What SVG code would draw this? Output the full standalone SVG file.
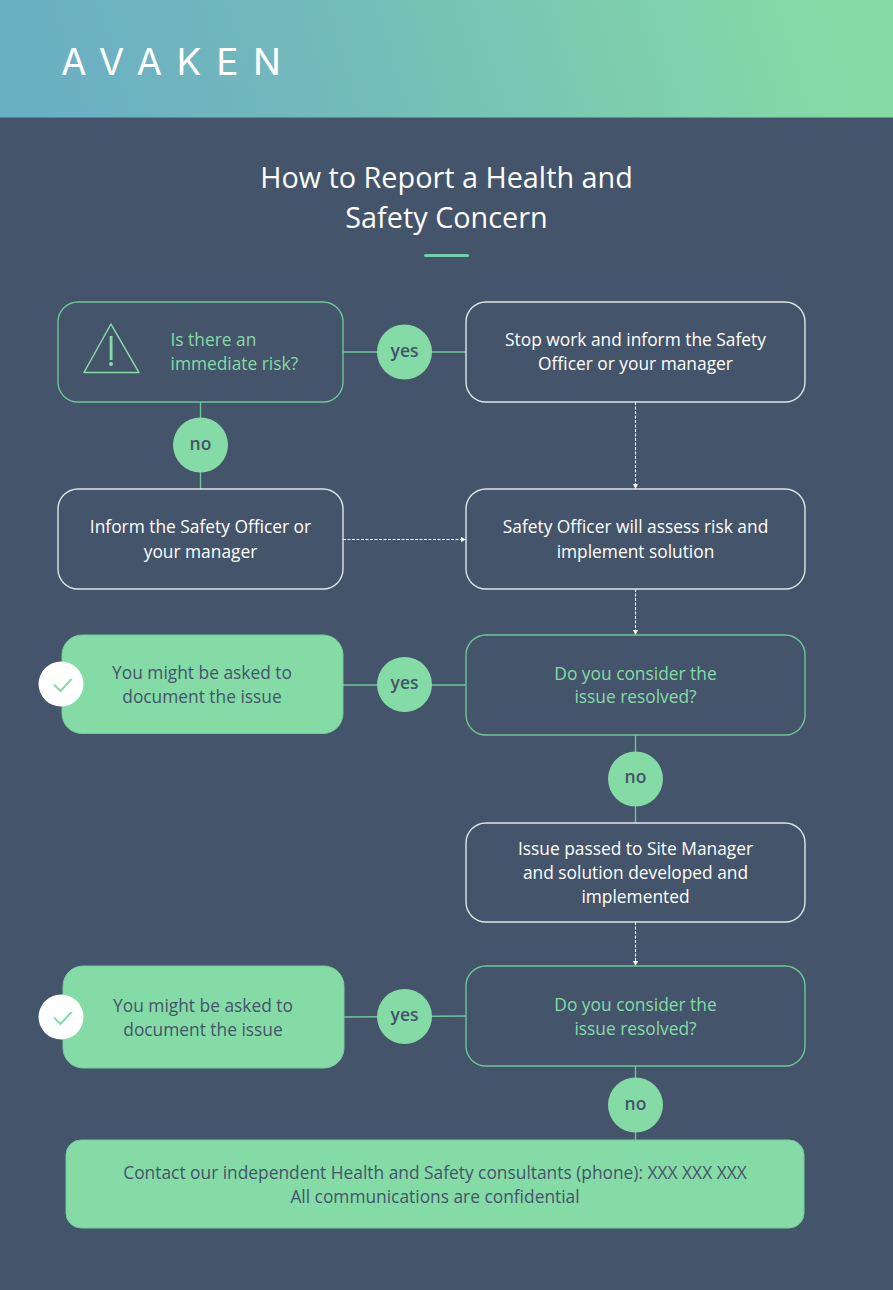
<svg xmlns="http://www.w3.org/2000/svg" width="893" height="1290" viewBox="0 0 893 1290">
<style>
text{font-family:"Open Sans","Noto Sans","Liberation Sans",sans-serif;font-size:17.350px;text-anchor:middle}
.w{fill:#fff}.g{fill:#85dba6}.d{fill:#44546a}
.b{font-weight:600;font-size:17.500px;fill:#44546a}
.bw{fill:#44546a;stroke:#dfe4e7;stroke-width:1.400}
.bg{fill:#44546a;stroke:#6fc49a;stroke-width:1.400}
.f{fill:#85dba6;stroke:#76c99b;stroke-width:1}
.c{fill:none;stroke:#6fc49a;stroke-width:1.400}
.a{fill:none;stroke:#eef1f2;stroke-width:1.100;stroke-dasharray:3 1.500}
.p{fill:#85dba6}
</style>
<defs>
<linearGradient id="hdr" gradientUnits="userSpaceOnUse" x1="60" y1="160" x2="800" y2="-60"><stop offset="0" stop-color="#6bafc3"/><stop offset=".35" stop-color="#73b9bb"/><stop offset="1" stop-color="#85dba6"/></linearGradient>
<marker id="ah" markerWidth="6" markerHeight="6" refX="5" refY="2.500" orient="auto" markerUnits="userSpaceOnUse"><path d="M0 0L5 2.500L0 5z" fill="#fff"/></marker>
</defs>
<rect width="893" height="1290" fill="#44546a"/>
<rect id="header" width="893" height="117.500" fill="url(#hdr)"/>
<!-- Wordmark -->
<text id="logo" x="61" y="75" style="font-size:37px;font-family:Inter,'Open Sans',sans-serif;font-weight:400;text-anchor:start" class="w" textLength="220" lengthAdjust="spacing">AVAKEN</text>
<g id="title">
<text class="w" x="446.500" y="188" style="font-size:28.800px">How to Report a Health and</text>
<text class="w" x="446.500" y="228" style="font-size:28.800px">Safety Concern</text>
<rect x="424" y="254" width="45" height="3" rx="1.500" fill="#74cdb0"/>
</g>
<g id="connectors">
<path class="c" d="M343 352H466M200.500 402V489M343 685H466M635.500 735V823M344 1017L466 1016M635.500 1066V1140"/>
<path class="a" marker-end="url(#ah)" d="M635.500 402V489"/>
<path class="a" marker-end="url(#ah)" d="M343 539.500H466"/>
<path class="a" marker-end="url(#ah)" d="M635.500 589V635"/>
<path class="a" marker-end="url(#ah)" d="M635.500 922V966"/>
</g>
<g id="risk">
<rect class="bg" x="58" y="302" width="285" height="100" rx="20"/>
<path d="M111 324L139 372.500H84Z" fill="none" stroke="#85dba6" stroke-width="1.500" stroke-linejoin="round"/>
<rect class="p" x="109.700" y="336" width="2.800" height="24"/><circle class="p" cx="111" cy="364" r="2"/>
<text class="g" style="text-anchor:start" x="170.500" y="346">Is there an</text>
<text class="g" style="text-anchor:start" x="170.500" y="370">immediate risk?</text>
</g>
<g id="stop-work">
<rect class="bw" x="466" y="302" width="339" height="100" rx="20"/>
<text class="w" x="635.500" y="346">Stop work and inform the Safety</text>
<text class="w" x="635.500" y="370">Officer or your manager</text>
</g>
<g id="inform">
<rect class="bw" x="58" y="489" width="285" height="100" rx="20"/>
<text class="w" x="200.500" y="533">Inform the Safety Officer or</text>
<text class="w" x="200.500" y="558">your manager</text>
</g>
<g id="assess">
<rect class="bw" x="466" y="489" width="339" height="100" rx="20"/>
<text class="w" x="635.500" y="533">Safety Officer will assess risk and</text>
<text class="w" x="635.500" y="558">implement solution</text>
</g>
<g id="document-1">
<rect class="f" x="62" y="635" width="281" height="98.500" rx="20"/>
<circle cx="61" cy="684" r="22.500" fill="#fff"/>
<path d="M54 684.500L60.500 691L71.500 679" fill="none" stroke="#85dba6" stroke-width="2"/>
<text class="d" x="202" y="679">You might be asked to</text>
<text class="d" x="202" y="703">document the issue</text>
</g>
<g id="resolved-1">
<rect class="bg" x="466" y="635" width="339" height="100" rx="20"/>
<text class="g" x="635.500" y="680">Do you consider the</text>
<text class="g" x="635.500" y="703">issue resolved?</text>
</g>
<g id="site-manager">
<rect class="bw" x="466" y="823" width="339" height="99" rx="20"/>
<text class="w" x="635.500" y="855">Issue passed to Site Manager</text>
<text class="w" x="635.500" y="879">and solution developed and</text>
<text class="w" x="635.500" y="903">implemented</text>
</g>
<g id="document-2">
<rect class="f" x="63" y="966" width="281" height="102" rx="20"/>
<circle cx="61" cy="1017" r="22.500" fill="#fff"/>
<path d="M54 1017.500L60.500 1024L71.500 1012" fill="none" stroke="#85dba6" stroke-width="2"/>
<text class="d" x="203" y="1012">You might be asked to</text>
<text class="d" x="203" y="1036">document the issue</text>
</g>
<g id="resolved-2">
<rect class="bg" x="466" y="966" width="339" height="100" rx="20"/>
<text class="g" x="635.500" y="1011">Do you consider the</text>
<text class="g" x="635.500" y="1035">issue resolved?</text>
</g>
<g id="consultants">
<rect class="f" x="66" y="1140" width="738" height="88" rx="15"/>
<text class="d" x="435" y="1179">Contact our independent Health and Safety consultants (phone): XXX XXX XXX</text>
<text class="d" x="435" y="1203">All communications are confidential</text>
</g>
<g id="yes-1"><circle class="p" cx="404.500" cy="352" r="27.500"/><text class="b" x="404.500" y="357">yes</text></g>
<g id="no-1"><circle class="p" cx="200.500" cy="445" r="27.500"/><text class="b" x="200.500" y="450">no</text></g>
<g id="yes-2"><circle class="p" cx="404.500" cy="684.500" r="27.500"/><text class="b" x="404.500" y="689">yes</text></g>
<g id="no-2"><circle class="p" cx="635.500" cy="779" r="27.500"/><text class="b" x="635.500" y="783">no</text></g>
<g id="yes-3"><circle class="p" cx="404.500" cy="1016.500" r="27.500"/><text class="b" x="404.500" y="1021">yes</text></g>
<g id="no-3"><circle class="p" cx="635.500" cy="1105" r="27.500"/><text class="b" x="635.500" y="1110">no</text></g>
</svg>
